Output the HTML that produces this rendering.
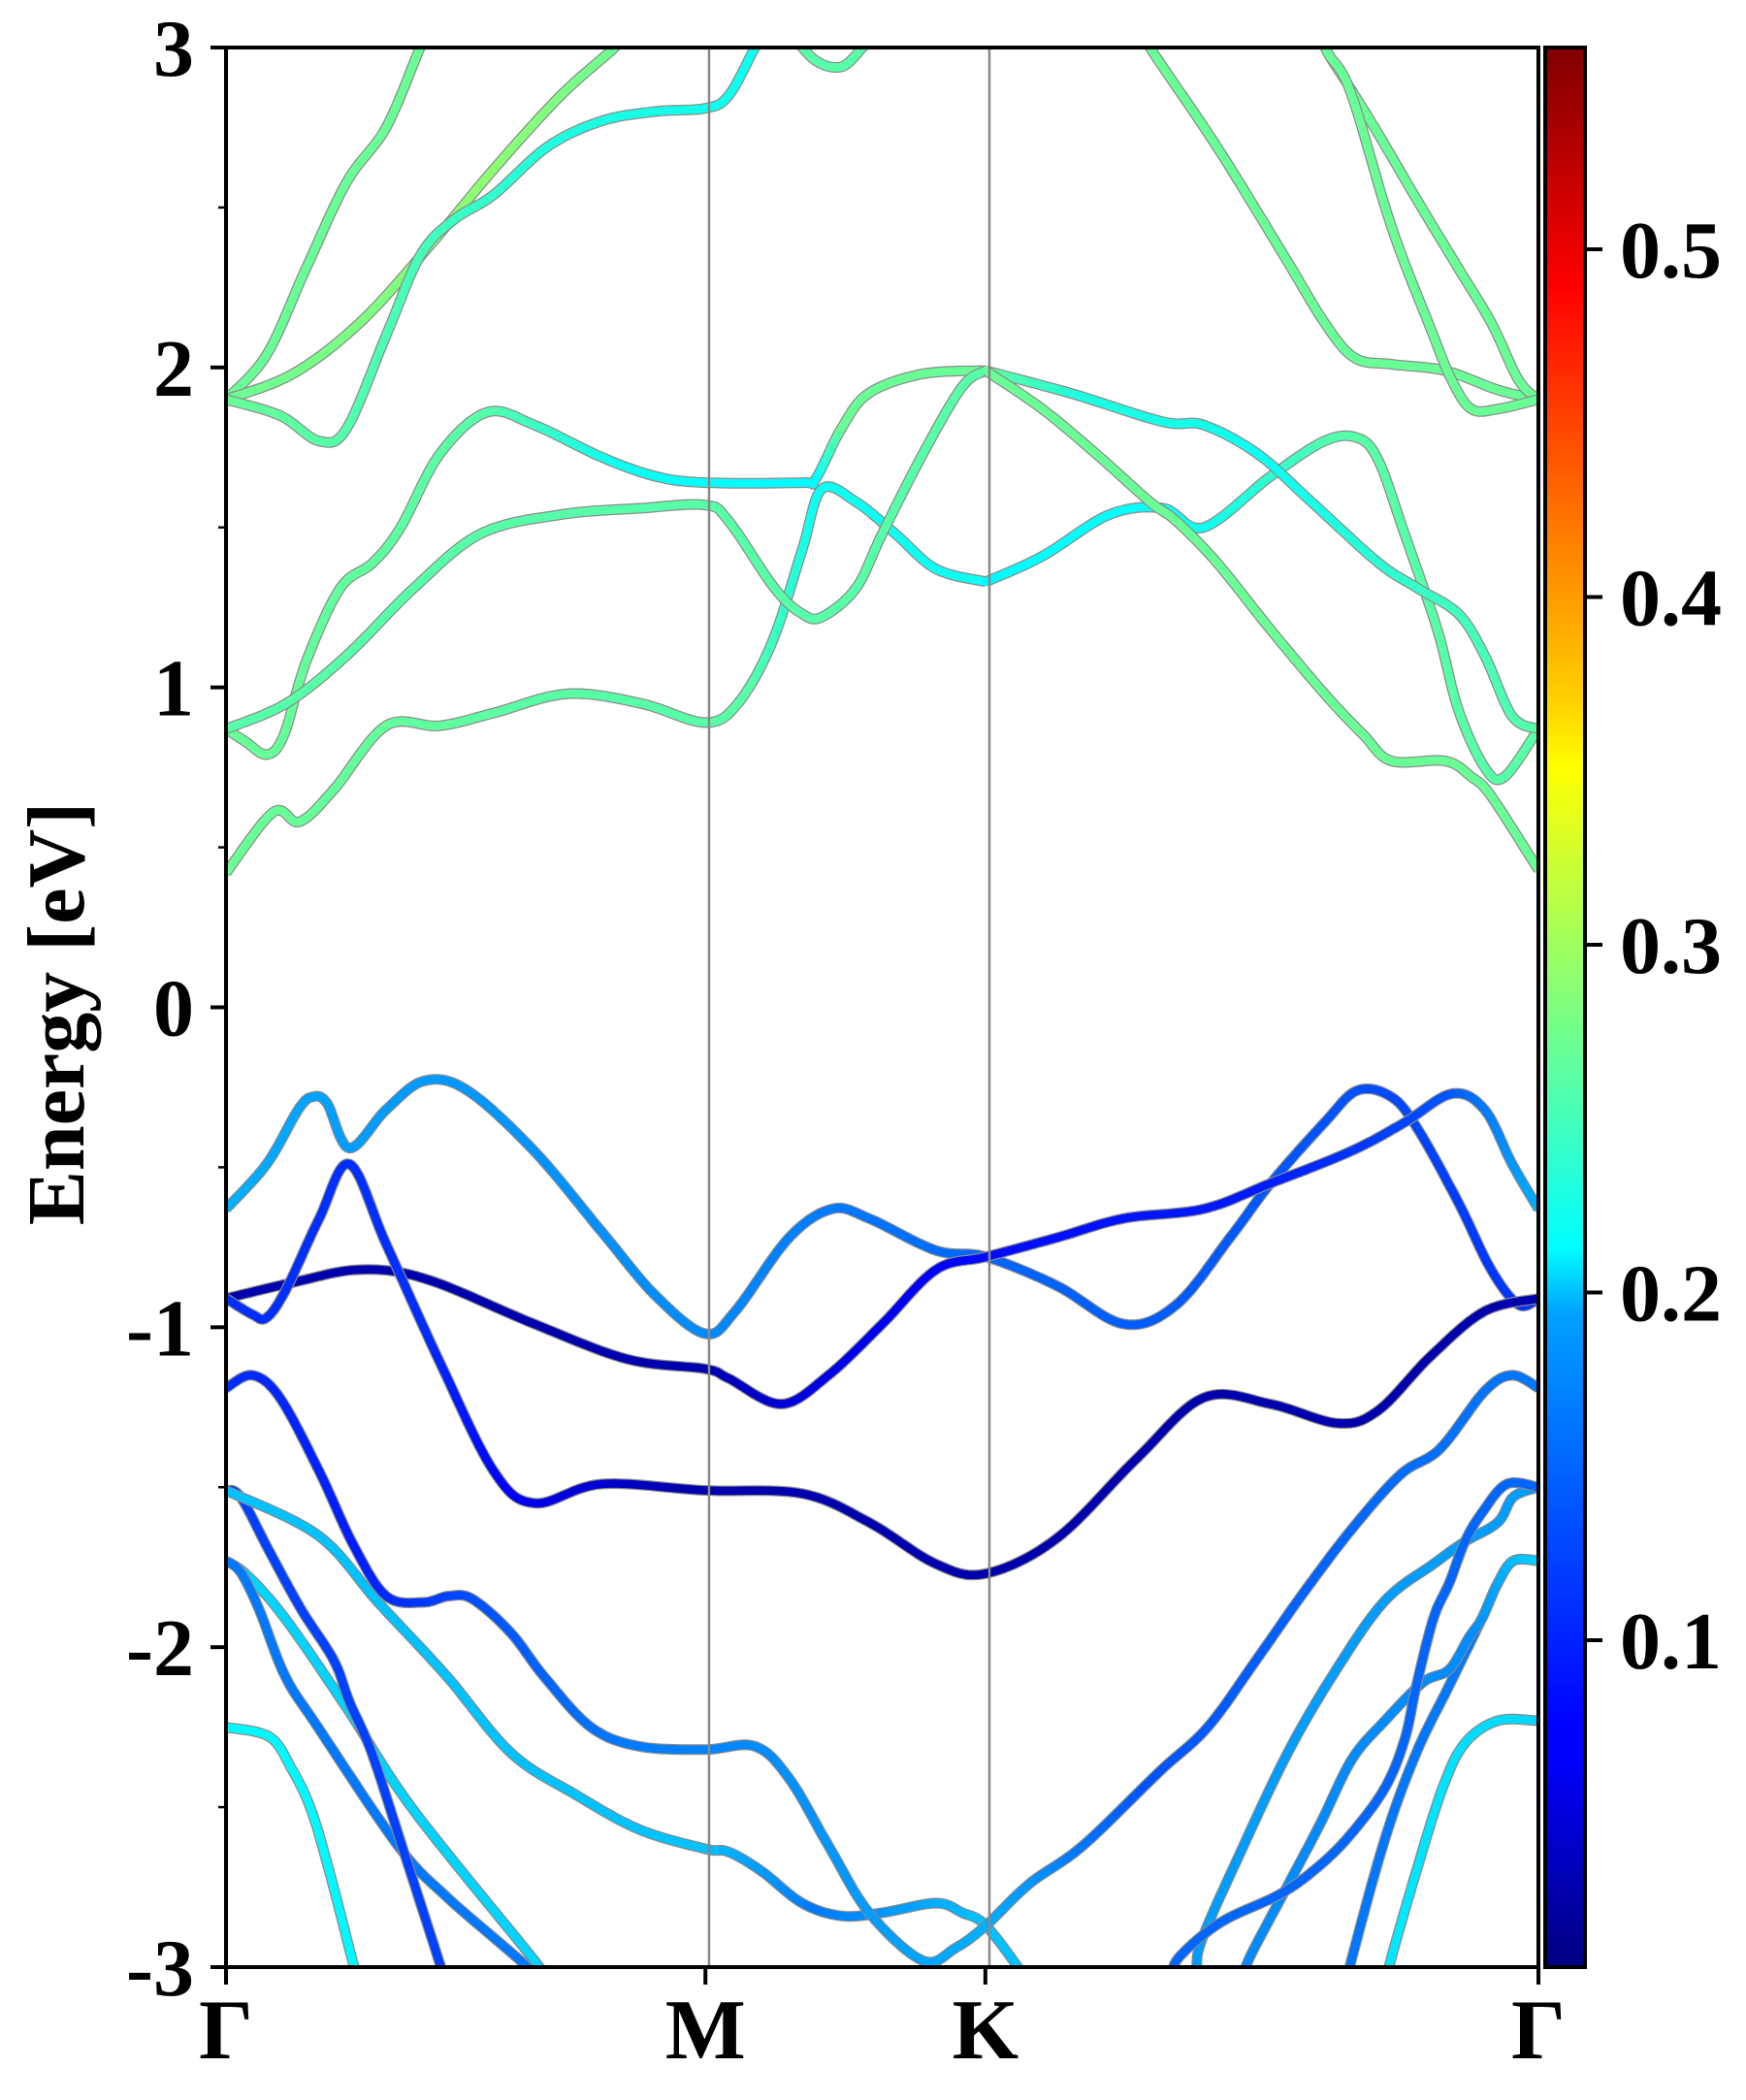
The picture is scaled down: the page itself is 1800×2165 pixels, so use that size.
<!DOCTYPE html>
<html><head><meta charset="utf-8"><style>
html,body{margin:0;padding:0;background:#fff;}
svg text{font-family:"Liberation Serif",serif;font-weight:bold;fill:#000;}
</style></head><body>
<svg id="chart" width="1800" height="2160" viewBox="0 0 1800 2160" xmlns="http://www.w3.org/2000/svg">
<defs>
<clipPath id="plotclip"><rect x="233" y="49" width="1353" height="1979"/></clipPath>
<linearGradient id="jetgrad" x1="0" y1="1" x2="0" y2="0">
<stop offset="0" stop-color="#00007f"/><stop offset="0.11" stop-color="#0000ff"/><stop offset="0.125" stop-color="#0000ff"/>
<stop offset="0.34" stop-color="#00a0ff"/><stop offset="0.375" stop-color="#00ffff"/><stop offset="0.5" stop-color="#7fff7f"/>
<stop offset="0.625" stop-color="#ffff00"/><stop offset="0.66" stop-color="#ffd000"/><stop offset="0.875" stop-color="#ff0000"/><stop offset="1" stop-color="#7f0000"/>
</linearGradient>
</defs>
<g id="bands" clip-path="url(#plotclip)"></g>
<line x1="731" y1="49" x2="731" y2="2028" stroke="#888" stroke-width="2.5"/>
<line x1="1020" y1="49" x2="1020" y2="2028" stroke="#888" stroke-width="2.5"/>
<rect x="233" y="49" width="1353" height="1979" fill="none" stroke="#000" stroke-width="4"/>
<g id="yaxis"></g>
<g id="xaxis"></g>
<text transform="translate(86,1045) rotate(-90)" text-anchor="middle" font-size="84">Energy [eV]</text>
<rect x="1593" y="49" width="41" height="1979" fill="url(#jetgrad)" stroke="#000" stroke-width="4"/>
<g id="cbaxis"></g>
</svg>
<script>
// axis data
const yTicks=[-3,-2,-1,0,1,2,3];
const yTickLabels=["-3","-2","-1","0","1","2","3"];
const yMinor=[-2.5,-1.5,-0.5,0.5,1.5,2.5];
const kPoints=[0,0.3653,0.5786,1];
const kLabels=["Γ","M","K","Γ"];
const cbTicks=[0.1,0.2,0.3,0.4,0.5];
const cbTickLabels=["0.1","0.2","0.3","0.4","0.5"];
const cMin=0.006, cMax=0.558;
// band data: k (fraction of path), E (eV), colour stops
const cb1K=[0,.036,.056,.082,.122,.163,.204,.26,.316,.365,.39,.416,.439,.454,.48,.51,.541,.579];
const cb1E=[.42,.61,.58,.68,.88,.88,.92,.98,.95,.89,.95,1.14,1.43,1.62,1.58,1.48,1.37,1.33];
const cb1CK=[0,.3,.4,.45,.579]; const cb1CV=[.27,.26,.26,.22,.22];
const bcK=[.579,.622,.673,.714,.745,.796,.837,.862,.878,.898,.923,.939,.959,.974,1];
const bcE=[1.33,1.41,1.54,1.56,1.50,1.66,1.77,1.78,1.71,1.48,1.18,.93,.75,.72,.87];
const bcCK=[.579,.75,.85,1]; const bcCV=[.21,.22,.26,.26];
const cb2K=[0,.015,.031,.044,.061,.087,.112,.133,.163,.199,.235,.286,.327,.365,.439,.449,.469,.49,.531,.579];
const cb2E=[.87,.83,.79,.85,1.08,1.31,1.39,1.50,1.73,1.86,1.82,1.72,1.66,1.64,1.64,1.65,1.81,1.92,1.98,1.99];
const cb2CK=[0,.2,.3,.45,.47,.579]; const cb2CV=[.27,.26,.22,.21,.27,.27];
const baK=[.579,.643,.714,.745,.786,.827,.878,.908,.939,.959,.98,1];
const baE=[1.99,1.92,1.83,1.82,1.73,1.58,1.39,1.31,1.23,1.10,.91,.87];
const baCK=[.579,.65,.8,.9,1]; const baCV=[.27,.23,.22,.24,.26];
const cb3K=[0,.046,.092,.143,.194,.255,.316,.365,.383,.418,.439,.454,.48,.5,.531,.561,.579];
const cb3E=[.87,.95,1.10,1.31,1.48,1.54,1.56,1.57,1.52,1.31,1.23,1.22,1.31,1.48,1.73,1.94,1.99];
const cb3CK=[0,1]; const cb3CV=[.26,.26];
const bbK=[.579,.622,.663,.704,.724,.755,.796,.837,.867,.888,.929,.949,.964,1];
const bbE=[1.99,1.87,1.73,1.58,1.52,1.39,1.18,.98,.85,.77,.77,.72,.66,.43];
const bbCK=[0,1]; const bbCV=[.27,.27];
const bgK=[0,.031,.061,.092,.122,.148,.16]; const bgE=[1.90,2.04,2.31,2.58,2.75,3.0,3.1];
const bgCK=[0,1]; const bgCV=[.27,.27];
const bhK=[0,.051,.102,.153,.204,.255,.296,.31]; const bhE=[1.90,1.98,2.14,2.37,2.62,2.85,3.0,3.07];
const bhCK=[0,.2,.31]; const bhCV=[.27,.29,.27];
const biK=[0,.041,.071,.092,.122,.148,.173,.204,.245,.286,.327,.365,.383,.403,.41];
const biE=[1.90,1.85,1.77,1.81,2.10,2.35,2.46,2.54,2.69,2.77,2.80,2.81,2.85,3.0,3.05];
const biCK=[0,.15,.25,.41]; const biCV=[.27,.25,.23,.22];
const bjK=[.429,.449,.469,.485,.495]; const bjE=[3.05,2.96,2.94,3.0,3.05];
const bjCK=[0,1]; const bjCV=[.26,.26];
const bdK=[.70,.704,.755,.806,.837,.86,.888,.929,.969,1]; const bdE=[3.05,3.0,2.69,2.35,2.14,2.03,2.01,1.99,1.93,1.90];
const bdCK=[0,1]; const bdCV=[.27,.27];
const beK=[.833,.84,.857,.878,.908,.939,.964,.985,1]; const beE=[3.05,2.98,2.87,2.73,2.52,2.31,2.14,1.96,1.90];
const beCK=[0,1]; const beCV=[.27,.27];
const bfK=[.833,.84,.857,.888,.918,.934,.949,.969,1]; const bfE=[3.05,2.98,2.86,2.44,2.12,1.96,1.87,1.87,1.90];
const bfCK=[0,1]; const bfCV=[.27,.27];
// valence
const v1K=[0,.031,.055,.066,.077,.094,.122,.151,.184,.235,.286,.327,.365,.388,.429,.462,.49,.541,.579,.633,.684,.724,.765,.796,.837,.862,.888,.908,.939,.964,.985,1];
const v1E=[-.63,-.49,-.32,-.28,-.30,-.44,-.32,-.23,-.26,-.45,-.70,-.90,-1.02,-.95,-.72,-.63,-.66,-.76,-.78,-.87,-.99,-.93,-.72,-.55,-.36,-.26,-.28,-.38,-.61,-.82,-.93,-.91];
const v1CK=[0,.1,.365,.58,.85,1]; const v1CV=[.17,.16,.15,.13,.12,.1];
const v2K=[0,.02,.031,.046,.071,.094,.122,.163,.204,.235,.286,.365,.439,.49,.541,.579,.633,.694,.745,.796,.847,.878,.918,.959,1];
const v2E=[-.91,-.96,-.97,-.88,-.66,-.49,-.74,-1.11,-1.45,-1.55,-1.49,-1.51,-1.52,-1.61,-1.74,-1.77,-1.66,-1.41,-1.22,-1.24,-1.30,-1.26,-1.09,-.95,-.91];
const v2CK=[0,.15,.25,.35,1]; const v2CV=[.1,.1,.06,.03,.03];
const v3K=[0,.051,.102,.153,.235,.306,.365,.383,.423,.459,.5,.541,.579,.633,.684,.745,.796,.857,.898,.934,.959,.98,1];
const v3E=[-.91,-.86,-.82,-.85,-.99,-1.10,-1.13,-1.16,-1.24,-1.15,-.99,-.82,-.78,-.72,-.66,-.63,-.55,-.45,-.36,-.27,-.32,-.49,-.63];
const v3CK=[0,.365,.45,.58,.8,.93,1]; const v3CV=[.03,.03,.06,.08,.09,.12,.17];
const v4K=[0,.02,.041,.071,.097,.122,.15,.17,.188,.217,.242,.278,.315,.365,.403,.429,.459,.49,.531,.556,.579,.612,.653,.711,.748,.785,.821,.858,.895,.925,.959,.98,1];
const v4E=[-1.19,-1.15,-1.22,-1.45,-1.68,-1.84,-1.86,-1.84,-1.85,-1.955,-2.09,-2.25,-2.31,-2.32,-2.31,-2.41,-2.62,-2.83,-2.98,-2.94,-2.87,-2.74,-2.62,-2.39,-2.25,-2.04,-1.83,-1.63,-1.46,-1.38,-1.20,-1.15,-1.19];
const v4CK=[0,.1,.2,.3,.5,.58,.7,1]; const v4CV=[.1,.09,.12,.14,.16,.17,.12,.14];
const v5K=[0,.07,.116,.168,.217,.266,.315,.365,.383,.408,.439,.469,.5,.541,.561,.579,.607];
const v5E=[-1.51,-1.65,-1.86,-2.09,-2.33,-2.46,-2.57,-2.63,-2.64,-2.70,-2.80,-2.84,-2.83,-2.80,-2.83,-2.87,-3.02];
const v5CK=[0,.2,.365,.45,.58]; const v5CV=[.18,.18,.18,.14,.18];
const v6K=[0,.011,.033,.057,.082,.094,.111,.134,.163,.17]; const v6E=[-1.51,-1.53,-1.70,-1.88,-2.04,-2.17,-2.33,-2.62,-2.99,-3.08];
const v6CK=[0,1]; const v6CV=[.11,.11];
const v7K=[0,.016,.045,.092,.143,.237,.245]; const v7E=[-1.73,-1.775,-1.91,-2.19,-2.51,-2.99,-3.05];
const v7CK=[0,1]; const v7CV=[.19,.19];
const v8K=[0,.011,.025,.045,.07,.131,.168,.227,.235]; const v8E=[-1.73,-1.765,-1.88,-2.09,-2.25,-2.62,-2.78,-2.99,-3.04];
const v8CK=[0,1]; const v8CV=[.14,.14];
const v9K=[0,.033,.05,.065,.08,.097,.102]; const v9E=[-2.25,-2.28,-2.38,-2.51,-2.72,-2.99,-3.05];
const v9CK=[0,1]; const v9CV=[.21,.21];
const r2K=[.74,.743,.772,.809,.846,.883,.92,.944,.969,.981,1]; const r2E=[-3.02,-2.92,-2.65,-2.33,-2.07,-1.855,-1.74,-1.67,-1.61,-1.53,-1.50];
const r2CK=[0,1]; const r2CV=[.16,.16];
const r3K=[.72,.726,.758,.804,.834,.858,.883,.898,.907,.92,.932,.944,.957,.976,1]; const r3E=[-3.04,-2.97,-2.86,-2.77,-2.68,-2.58,-2.44,-2.29,-2.12,-1.91,-1.80,-1.67,-1.58,-1.49,-1.50];
const r3CK=[0,1]; const r3CV=[.13,.13];
const r4K=[.776,.78,.807,.834,.858,.883,.912,.932,.947,.957,.969,.981,1]; const r4E=[-3.03,-2.97,-2.76,-2.55,-2.35,-2.23,-2.11,-2.07,-1.97,-1.91,-1.80,-1.73,-1.73];
const r4CK=[0,.95,1]; const r4CV=[.15,.15,.19];
const r5K=[.855,.858,.883,.907,.932,.957,.969,.981,1]; const r5E=[-3.03,-2.97,-2.60,-2.33,-2.12,-1.91,-1.80,-1.73,-1.73];
const r5CK=[0,.95,1]; const r5CV=[.13,.14,.19];
const r6K=[.885,.888,.907,.927,.944,.969,1]; const r6E=[-3.03,-2.97,-2.70,-2.44,-2.30,-2.23,-2.23];
const r6CK=[0,.9,1]; const r6CV=[.21,.2,.19];

const bandList=[
 ["band-cb1",cb1K,cb1E,cb1CK,cb1CV],["band-c-right",bcK,bcE,bcCK,bcCV],["band-cb2",cb2K,cb2E,cb2CK,cb2CV],
 ["band-a-right",baK,baE,baCK,baCV],["band-cb3",cb3K,cb3E,cb3CK,cb3CV],["band-b-right",bbK,bbE,bbCK,bbCV],
 ["band-g",bgK,bgE,bgCK,bgCV],["band-h",bhK,bhE,bhCK,bhCV],["band-i",biK,biE,biCK,biCV],["band-j",bjK,bjE,bjCK,bjCV],
 ["band-d",bdK,bdE,bdCK,bdCV],["band-e",beK,beE,beCK,beCV],["band-f",bfK,bfE,bfCK,bfCV],
 ["band-v9",v9K,v9E,v9CK,v9CV],["band-v7",v7K,v7E,v7CK,v7CV],["band-v8",v8K,v8E,v8CK,v8CV],["band-v6",v6K,v6E,v6CK,v6CV],
 ["band-v5",v5K,v5E,v5CK,v5CV],["band-r6",r6K,r6E,r6CK,r6CV],["band-r5",r5K,r5E,r5CK,r5CV],["band-r4",r4K,r4E,r4CK,r4CV],
 ["band-r2",r2K,r2E,r2CK,r2CV],["band-r3",r3K,r3E,r3CK,r3CV],["band-v4",v4K,v4E,v4CK,v4CV],
 ["band-v1",v1K,v1E,v1CK,v1CV],["band-v3",v3K,v3E,v3CK,v3CV],["band-v2",v2K,v2E,v2CK,v2CV]
];

const NS="http://www.w3.org/2000/svg";
const X0=233,X1=1586,Y0=49,Y1=2028,EMIN=-3,EMAX=3;
function xs(k){return X0+k*(X1-X0);}
function ys(e){return Y1-(e-EMIN)/(EMAX-EMIN)*(Y1-Y0);}
function cbY(v){return Y1-(v-cMin)/(cMax-cMin)*(Y1-Y0);}
function jet(c){
  const t=Math.max(0,Math.min(1,(c-cMin)/(cMax-cMin)));
  const cl=v=>Math.max(0,Math.min(1,v));
  const r=cl(1.5-Math.abs(4*t-3)),g=cl(1.5-Math.abs(4*t-2)),b=cl(1.5-Math.abs(4*t-1));
  return "rgb("+Math.round(r*255)+","+Math.round(g*255)+","+Math.round(b*255)+")";
}
function colAt(k,ck,cv){
  if(ck.length<2||k<=ck[0])return cv[0];
  for(let i=1;i<ck.length;i++){if(k<=ck[i]){const f=(k-ck[i-1])/(ck[i]-ck[i-1]);return cv[i-1]+f*(cv[i]-cv[i-1]);}}
  return cv[cv.length-1];
}
function sample(K,E){
  const P=K.map((k,i)=>[xs(k),ys(E[i]),k]);const out=[];
  for(let i=0;i<P.length-1;i++){
    const p0=P[Math.max(0,i-1)],p1=P[i],p2=P[i+1],p3=P[Math.min(P.length-1,i+2)];
    const n=14;
    for(let j=0;j<n;j++){
      const t=j/n,t2=t*t,t3=t2*t;
      const f=(a,b,c,d)=>0.5*((2*b)+(-a+c)*t+(2*a-5*b+4*c-d)*t2+(-a+3*b-3*c+d)*t3);
      out.push([f(p0[0],p1[0],p2[0],p3[0]),f(p0[1],p1[1],p2[1],p3[1]),p1[2]+(p2[2]-p1[2])*t]);
    }
  }
  const L=P[P.length-1];out.push([L[0],L[1],L[2]]);return out;
}
const bandsG=document.getElementById('bands');
bandList.forEach(b=>{
  const [name,K,E,CK,CV]=b;
  const g=document.createElementNS(NS,'g');
  
  
  const pts=sample(K,E);
  const outline=document.createElementNS(NS,'path');
  
  
  outline.setAttribute('d','M'+pts.map(p=>p[0].toFixed(1)+','+p[1].toFixed(1)).join('L'));
  outline.setAttribute('fill','none');outline.setAttribute('stroke','#8a8a8a');
  outline.setAttribute('stroke-width','11');outline.setAttribute('stroke-linejoin','round');
  g.appendChild(outline);
  for(let i=0;i<pts.length-1;i++){
    const s=document.createElementNS(NS,'line');
    
    
    s.setAttribute('x1',pts[i][0].toFixed(1));s.setAttribute('y1',pts[i][1].toFixed(1));
    s.setAttribute('x2',pts[i+1][0].toFixed(1));s.setAttribute('y2',pts[i+1][1].toFixed(1));
    s.setAttribute('stroke',jet(colAt((pts[i][2]+pts[i+1][2])/2,CK,CV)));
    s.setAttribute('stroke-width','8.5');s.setAttribute('stroke-linecap','round');
    g.appendChild(s);
  }
  bandsG.appendChild(g);
});
const ya=document.getElementById('yaxis');
yTicks.forEach((v,i)=>{
  const l=document.createElementNS(NS,'line');
  
  
  l.setAttribute('x1',X0-16);l.setAttribute('x2',X0);l.setAttribute('y1',ys(v));l.setAttribute('y2',ys(v));
  l.setAttribute('stroke','#000');l.setAttribute('stroke-width','4');ya.appendChild(l);
  const t=document.createElementNS(NS,'text');
  
  
  t.setAttribute('x',200);t.setAttribute('y',ys(v)+29);t.setAttribute('text-anchor','end');t.setAttribute('font-size','84');
  t.textContent=yTickLabels[i];ya.appendChild(t);
});
yMinor.forEach(v=>{
  const l=document.createElementNS(NS,'line');
  
  
  l.setAttribute('x1',X0-8);l.setAttribute('x2',X0);l.setAttribute('y1',ys(v));l.setAttribute('y2',ys(v));
  l.setAttribute('stroke','#000');l.setAttribute('stroke-width','2.5');ya.appendChild(l);
});
const xa=document.getElementById('xaxis');
kPoints.forEach((k,i)=>{
  const l=document.createElementNS(NS,'line');
  
  
  l.setAttribute('x1',xs(k));l.setAttribute('x2',xs(k));l.setAttribute('y1',Y1);l.setAttribute('y2',Y1+18);
  l.setAttribute('stroke','#000');l.setAttribute('stroke-width','4');xa.appendChild(l);
  const t=document.createElementNS(NS,'text');
  
  
  t.setAttribute('x',xs(k));t.setAttribute('y',2122);t.setAttribute('text-anchor','middle');t.setAttribute('font-size','88');
  t.textContent=kLabels[i];xa.appendChild(t);
});
const ca=document.getElementById('cbaxis');
cbTicks.forEach((v,i)=>{
  const l=document.createElementNS(NS,'line');
  
  
  l.setAttribute('x1',1634);l.setAttribute('x2',1652);l.setAttribute('y1',cbY(v));l.setAttribute('y2',cbY(v));
  l.setAttribute('stroke','#000');l.setAttribute('stroke-width','4');ca.appendChild(l);
  const t=document.createElementNS(NS,'text');
  
  
  t.setAttribute('x',1670);t.setAttribute('y',cbY(v)+29);t.setAttribute('font-size','84');
  t.textContent=cbTickLabels[i];ca.appendChild(t);
});
</script>
</body></html>
